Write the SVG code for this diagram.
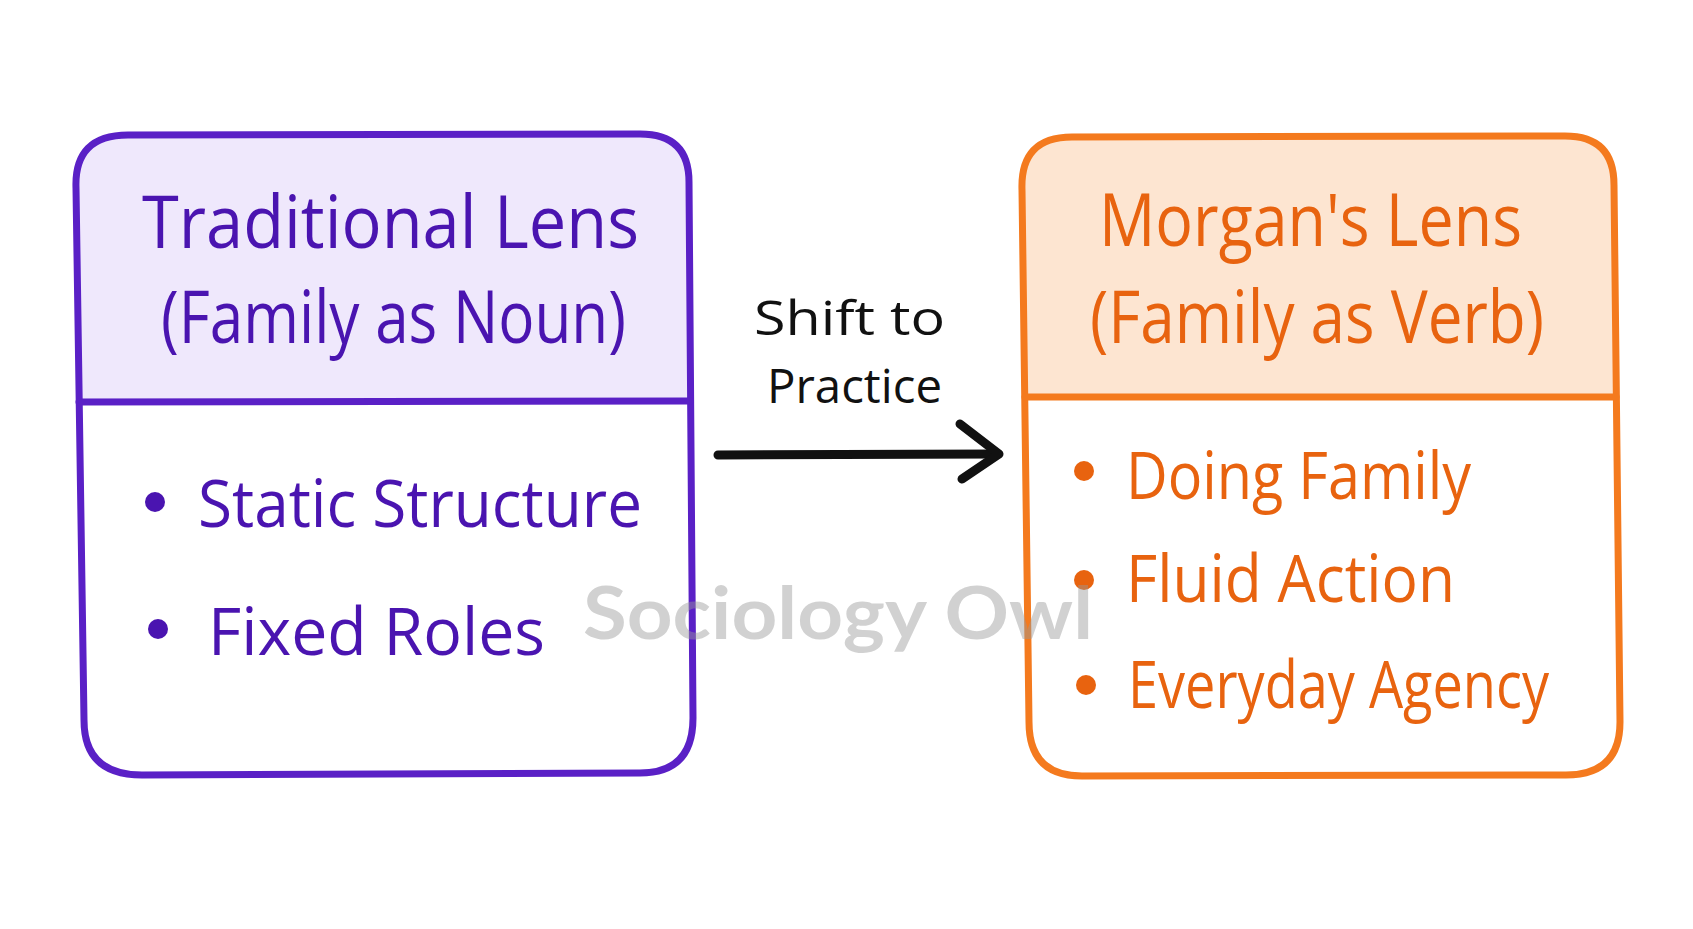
<svg xmlns="http://www.w3.org/2000/svg" width="1693" height="929" viewBox="0 0 1693 929">
  <style>
    .hand { font-family: "Open Sans", "Liberation Sans", sans-serif; }
    .pstroke { fill: none; stroke: #5a20c6; stroke-width: 7; stroke-linejoin: round; stroke-linecap: round; }
    .ostroke { fill: none; stroke: #f47a1e; stroke-width: 7; stroke-linejoin: round; stroke-linecap: round; }
    .ptext { fill: #4a14b0; }
    .otext { fill: #e8630f; }
    .title { font-size: 74px; }
    .item { font-size: 66px; }
    .label { font-size: 48px; fill: #111111; }
    .conn { fill: none; stroke: #111111; stroke-width: 9; stroke-linecap: round; stroke-linejoin: round; }
    .wm { font-family: Lato, "Open Sans", sans-serif; font-weight: 700; font-size: 72px; fill: #9a9a9a; fill-opacity: 0.45; }
  </style>
  <rect width="1693" height="929" fill="#ffffff"/>

  <g id="traditional-lens">
    <path d="M 76,188 Q 74,135 128,135 L 640,134 Q 689,134 689,182 L 690,402 L 79,402 Z" fill="#efe8fc"/>
    <path d="M 79,402 L 690,402 L 693,718 Q 693,773 640,773 L 142,775 Q 84,775 84,720 Z" fill="#ffffff"/>
    <path class="pstroke" d="M 76,188 Q 74,135 128,135 L 640,134 Q 689,134 689,182 L 693,718 Q 693,773 640,773 L 142,775 Q 84,775 84,720 Z"/>
    <path class="pstroke" d="M 79,402 L 690,401"/>
    <text class="hand ptext title" x="142" y="248" textLength="497" lengthAdjust="spacingAndGlyphs">Traditional Lens</text>
    <text class="hand ptext title" x="161" y="343" textLength="465" lengthAdjust="spacingAndGlyphs">(Family as Noun)</text>
    <circle cx="155" cy="502" r="10" fill="#4a14b0"/>
    <text class="hand ptext item" x="198" y="527" textLength="444" lengthAdjust="spacingAndGlyphs">Static Structure</text>
    <circle cx="158" cy="629" r="10" fill="#4a14b0"/>
    <text class="hand ptext item" x="208" y="655" textLength="337" lengthAdjust="spacingAndGlyphs">Fixed Roles</text>
  </g>

  <g id="morgans-lens">
    <path d="M 1022,190 Q 1020,137 1072,137 L 1565,136 Q 1614,136 1614,185 L 1616,397 L 1025,397 Z" fill="#fde5d1"/>
    <path d="M 1025,397 L 1616,397 L 1620,722 Q 1620,775 1566,775 L 1082,776 Q 1029,776 1029,722 Z" fill="#ffffff"/>
    <path class="ostroke" d="M 1022,190 Q 1020,137 1072,137 L 1565,136 Q 1614,136 1614,185 L 1620,722 Q 1620,775 1566,775 L 1082,776 Q 1029,776 1029,722 Z"/>
    <path class="ostroke" d="M 1025,397 L 1616,397"/>
    <text class="hand otext title" x="1099" y="246" textLength="423" lengthAdjust="spacingAndGlyphs">Morgan's Lens</text>
    <text class="hand otext title" x="1090" y="343" textLength="454" lengthAdjust="spacingAndGlyphs">(Family as Verb)</text>
    <circle cx="1084" cy="471" r="10" fill="#e8630f"/>
    <text class="hand otext item" x="1126" y="499" textLength="345" lengthAdjust="spacingAndGlyphs">Doing Family</text>
    <circle cx="1084" cy="580" r="10" fill="#e8630f"/>
    <text class="hand otext item" x="1126" y="602" textLength="329" lengthAdjust="spacingAndGlyphs">Fluid Action</text>
    <circle cx="1086" cy="685" r="10" fill="#e8630f"/>
    <text class="hand otext item" x="1128" y="708" textLength="421" lengthAdjust="spacingAndGlyphs">Everyday Agency</text>
  </g>

  <g id="connectors">
    <path class="conn" d="M 718,455 L 998,454"/>
    <path class="conn" d="M 960,424 L 999,454 L 962,479"/>
    <text class="hand label" x="754" y="335" textLength="191" lengthAdjust="spacingAndGlyphs">Shift to</text>
    <text class="hand label" x="767" y="403" textLength="175" lengthAdjust="spacingAndGlyphs">Practice</text>
  </g>

  <text class="wm" x="583" y="639" textLength="510" lengthAdjust="spacingAndGlyphs">Sociology Owl</text>
</svg>
